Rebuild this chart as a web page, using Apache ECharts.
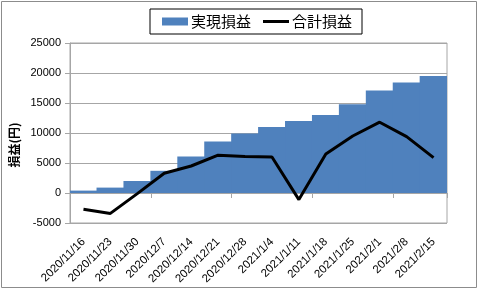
<!DOCTYPE html>
<html>
<head>
<meta charset="utf-8">
<script src="https://cdn.jsdelivr.net/npm/echarts@6/dist/echarts.min.js"></script>
<style>
html, body { margin: 0; padding: 0; background: #fff; }
#chart { width: 480px; height: 290px; }
</style>
</head>
<body>
<div id="chart"></div>
<script>
// 週ごとの損益データ
const weeks = ['2020/11/16', '2020/11/23', '2020/11/30', '2020/12/7', '2020/12/14', '2020/12/21', '2020/12/28',
    '2021/1/4', '2021/1/11', '2021/1/18', '2021/1/25', '2021/2/1', '2021/2/8', '2021/2/15']
const realized = [400, 900, 2000, 3700, 6100, 8600, 9900, 11000, 12000, 13000, 14800, 17100, 18400, 19500]
const total = [-2700, -3400, -100, 3300, 4500, 6300, 6100, 6000, -1100, 6500, 9500, 11800, 9400, 5900]
const yTicks = { min: -5000, max: 25000, step: 5000 }

const FONT = '"Liberation Sans", "Noto Sans CJK JP", sans-serif'
const BLUE = '#4f81bd'
const GRID_LINE = '#a6a6a6'
// 凡例用の線アイコン (26x8 の枠内に太さ3の線)
const LINE_ICON = 'path://M0,0M26,8M0,2.5H26V5.5H0Z'

const myChart = echarts.init(document.getElementById('chart'))
const option = {
    animation: false,
    textStyle: { fontFamily: FONT },
    legend: {
        top: 9,
        left: 150,
        width: 217,
        height: 28,
        padding: [5, 10, 5, 12],
        itemGap: 12,
        itemWidth: 26,
        itemHeight: 8,
        borderColor: '#000',
        borderWidth: 1,
        textStyle: { color: '#000', fontSize: 15, fontFamily: '"Noto Sans CJK JP", sans-serif', padding: [0, 0, 0, -2] },
        data: [
            { name: '実現損益', icon: 'rect' },
            { name: '合計損益', icon: LINE_ICON, itemStyle: { color: '#000' } },
        ],
    },
    grid: {
        left: 70,
        right: 33,
        top: 43,
        bottom: 67,
        show: true,
        borderColor: GRID_LINE,
        borderWidth: 1,
    },
    xAxis: [
        {
            type: 'category',
            data: weeks,
            position: 'bottom',
            axisLine: { show: false, onZero: false },
            axisTick: { show: false },
            axisLabel: {
                interval: 0,
                rotate: 45,
                fontSize: 11.5,
                color: '#000',
                margin: 17,
            },
        },
        {
            type: 'category',
            data: weeks,
            position: 'bottom',
            axisLine: { show: true, onZero: true, lineStyle: { color: GRID_LINE } },
            axisTick: { show: true, length: 5, lineStyle: { color: GRID_LINE } },
            axisLabel: { show: false },
            z: 3,
        },
    ],
    yAxis: {
        type: 'value',
        min: yTicks.min,
        max: yTicks.max,
        interval: yTicks.step,
        axisLine: { show: true, lineStyle: { color: GRID_LINE } },
        axisTick: { show: true, length: 5, lineStyle: { color: GRID_LINE } },
        axisLabel: { fontSize: 11, color: '#000', margin: 9, formatter: (v) => String(v) },
        splitLine: { show: true, lineStyle: { color: GRID_LINE } },
    },
    graphic: [
        {
            type: 'rect',
            shape: { x: 1.5, y: 1.5, width: 475, height: 286 },
            style: { fill: 'none', stroke: '#8c8c8c', lineWidth: 1 },
            silent: true,
        },
        {
            type: 'text',
            x: 14,
            y: 145,
            rotation: Math.PI / 2,
            style: {
                text: '損益(円)',
                font: 'bold 12px "Noto Sans CJK JP", sans-serif',
                fill: '#000',
                align: 'center',
                verticalAlign: 'middle',
            },
        },
    ],
    series: [
        {
            name: '実現損益',
            type: 'bar',
            xAxisIndex: 0,
            data: realized,
            barWidth: '103%',
            itemStyle: { color: BLUE },
        },
        {
            name: '合計損益',
            type: 'line',
            xAxisIndex: 0,
            data: total,
            symbol: 'none',
            lineStyle: { color: '#000', width: 3 },
            itemStyle: { color: '#000' },
        },
    ],
}
myChart.setOption(option)
</script>
</body>
</html>
